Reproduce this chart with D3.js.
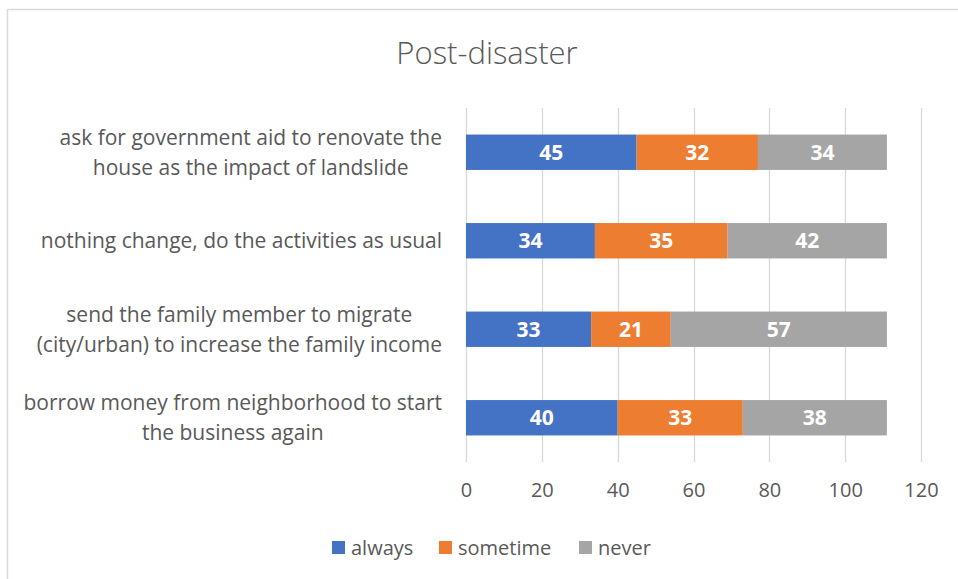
<!DOCTYPE html>
<html>
<head>
<meta charset="utf-8">
<script src="https://cdn.jsdelivr.net/npm/d3@7"></script>
<style>
  body { margin: 0; background: #fff; }
  svg { display: block; font-family: "Open Sans", sans-serif; }
</style>
</head>
<body>
<div id="chart"></div>
<script>
// Data
const categories = [
    ["ask for government aid to renovate the", "house as the impact of landslide"],
    ["nothing change, do the activities as usual"],
    ["send the family member to migrate", "(city/urban) to increase the family income"],
    ["borrow money from neighborhood to start", "the business again"]
];
const seriesNames = ["always", "sometime", "never"];
const always = [45, 34, 33, 40];
const sometime = [32, 35, 21, 33];
const never = [34, 42, 57, 38];
const xTicks = [0, 20, 40, 60, 80, 100, 120];

const colors = { always: "#4472C4", sometime: "#ED7D31", never: "#A5A5A5" };
const textColor = "#595959";

const W = 958, H = 579;
const margin = { top: 108, left: 466, right: 37, bottom: 117 };
const width = W - margin.left - margin.right;   // 455
const height = H - margin.top - margin.bottom;  // 354

const svg = d3.select("#chart").append("svg")
    .attr("width", W)
    .attr("height", H);

// chart border (only top and left visible in the crop)
svg.append("rect")
    .attr("x", 7.5).attr("y", 9.5)
    .attr("width", W + 10).attr("height", H + 10)
    .attr("fill", "none")
    .attr("stroke", "#D9D9D9")
    .attr("stroke-width", 1.5);

svg.append("text")
    .attr("x", 487).attr("y", 64)
    .attr("text-anchor", "middle")
    .style("font-size", "31px")
    .style("font-weight", 300)
    .style("fill", textColor)
    .text("Post-disaster");

const g = svg.append("g")
    .attr("transform", `translate(${margin.left},${margin.top})`);

const x = d3.scaleLinear().domain([0, 120]).range([0, width]);
const y = d3.scaleBand().domain(d3.range(categories.length)).range([0, height]).paddingInner(0.6).paddingOuter(0.3);

// gridlines
g.append("g")
    .selectAll("line")
    .data(xTicks)
    .join("line")
    .attr("x1", d => Math.round(x(d)) + 0.5)
    .attr("x2", d => Math.round(x(d)) + 0.5)
    .attr("y1", 0).attr("y2", height)
    .attr("stroke", "#D9D9D9")
    .attr("stroke-width", 1.3);

// x axis labels
const xAxis = g.append("g")
    .attr("transform", `translate(0,${height})`)
    .call(d3.axisBottom(x).tickValues(xTicks).tickSize(0).tickPadding(21));
xAxis.select(".domain").remove();
xAxis.selectAll("text")
    .style("font-size", "20px")
    .style("font-family", "'Open Sans', sans-serif")
    .style("fill", textColor);

// stacked bars
const table = categories.map((c, i) => ({ i, always: always[i], sometime: sometime[i], never: never[i] }));
const stacked = d3.stack().keys(seriesNames)(table);

stacked.forEach(layer => {
    const key = layer.key;
    const grp = g.append("g");
    grp.selectAll("rect")
        .data(layer)
        .join("rect")
        .attr("x", d => x(d[0]))
        .attr("y", d => y(d.data.i))
        .attr("width", d => x(d[1]) - x(d[0]))
        .attr("height", y.bandwidth())
        .attr("fill", colors[key]);
    grp.selectAll("text")
        .data(layer)
        .join("text")
        .attr("x", d => (x(d[0]) + x(d[1])) / 2)
        .attr("y", d => y(d.data.i) + y.bandwidth() / 2)
        .attr("dy", "0.36em")
        .attr("text-anchor", "middle")
        .style("font-size", "21px")
        .style("font-weight", "bold")
        .style("fill", "#fff")
        .text(d => d.data[key]);
});

// category labels: block right-aligned, lines centred within the block
const labelRight = 442;
const lineH = 30;
categories.forEach((lines, i) => {
    const cy = margin.top + y(i) + y.bandwidth() / 2;
    const lg = svg.append("g");
    const texts = lines.map((t, k) => lg.append("text")
        .attr("y", cy + (k - (lines.length - 1) / 2) * lineH)
        .attr("dy", "0.35em")
        .attr("text-anchor", "middle")
        .style("font-size", "21px")
        .style("fill", textColor)
        .text(t));
    const maxW = d3.max(texts, t => t.node().getComputedTextLength());
    texts.forEach(t => t.attr("x", labelRight - maxW / 2));
});

// legend
const legendItems = [
    { key: "always", x: 332 },
    { key: "sometime", x: 439 },
    { key: "never", x: 579 }
];
const legend = svg.append("g");
legendItems.forEach(item => {
    legend.append("rect")
        .attr("x", item.x).attr("y", 541)
        .attr("width", 13).attr("height", 13)
        .attr("fill", colors[item.key]);
    legend.append("text")
        .attr("x", item.x + 19).attr("y", 548)
        .attr("dy", "0.35em")
        .style("font-size", "20px")
        .style("fill", textColor)
        .text(item.key);
});
</script>
</body>
</html>
